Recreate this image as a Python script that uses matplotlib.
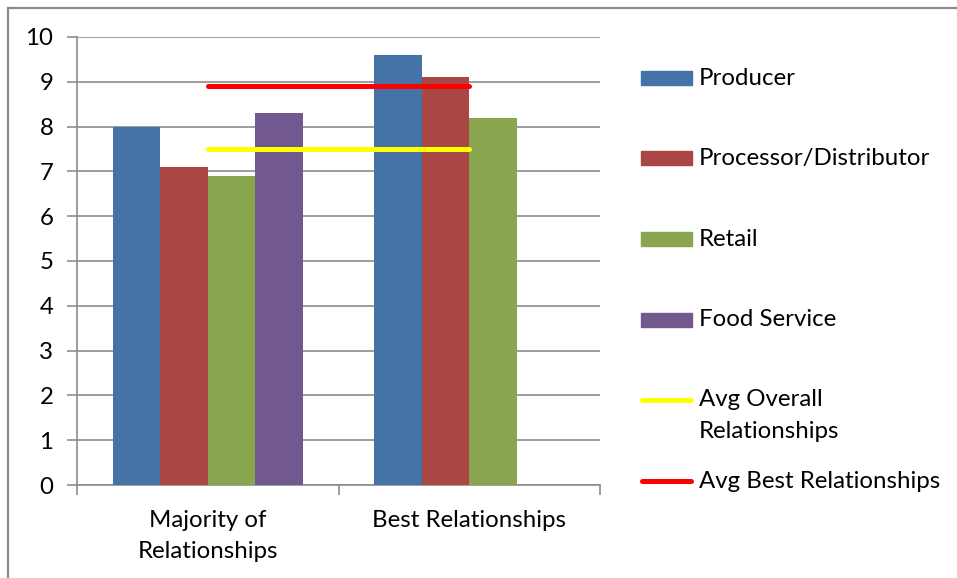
import matplotlib
matplotlib.use("Agg")
import matplotlib.pyplot as plt
from matplotlib.patches import Rectangle
from matplotlib.lines import Line2D
import numpy as np

plt.rcParams['font.family'] = ['Lato', 'DejaVu Sans']

categories = ["Majority of\nRelationships", "Best Relationships"]
series_names = ["Producer", "Processor/Distributor", "Retail", "Food Service"]
producer = [8.0, 9.6]
processor = [7.1, 9.1]
retail = [6.9, 8.2]
food_service = [8.3, np.nan]
avg_overall = [7.5, 7.5]
avg_best = [8.9, 8.9]
yticks = list(range(0, 11))

bar_colors = ["#4572A7", "#AA4643", "#89A54E", "#71588F"]
line_names = ["Avg Overall\nRelationships", "Avg Best Relationships"]
line_colors = ["#FFFF00", "#FF0000"]
FS = 17.3

fig = plt.figure(figsize=(9.57, 5.78), dpi=100)
ax = fig.add_axes([77/957, 1 - 485/578, (600 - 77)/957, (485 - 37)/578])

x = np.arange(len(categories))
n = 4
width = 1.0 / (n + 1.5)
for i, (vals, c) in enumerate(zip([producer, processor, retail, food_service], bar_colors)):
    offs = (i - (n - 1) / 2) * width
    ax.bar(x + offs, vals, width, color=c, zorder=3)

ax.plot(x, avg_overall, color=line_colors[0], lw=3.6, solid_capstyle='round', zorder=4)
ax.plot(x, avg_best, color=line_colors[1], lw=3.6, solid_capstyle='round', zorder=4)

ax.set_xlim(-0.5, 1.5)
ax.set_ylim(0, 10)
ax.set_yticks(yticks)
ax.set_yticklabels([str(t) for t in yticks], fontsize=FS)
ax.yaxis.grid(True, color="#8C8C8C", lw=1.2, zorder=0)
ax.set_axisbelow(True)
for s in ["top", "right"]:
    ax.spines[s].set_visible(False)
for s in ["left", "bottom"]:
    ax.spines[s].set_color("#8C8C8C")
    ax.spines[s].set_linewidth(1.2)
ax.tick_params(axis='y', length=7, color="#8C8C8C", width=1.2, pad=10)

# category labels centred, tick marks on category boundaries
ax.set_xticks([-0.5, 0.5, 1.5])
ax.set_xticklabels([])
ax.tick_params(axis='x', length=7, color="#8C8C8C", width=1.2)
for xi, lab in zip(x, categories):
    ax.text(xi, -0.56, lab, ha='center', va='top', fontsize=FS,
            transform=ax.transData, linespacing=1.6)

# legend drawn in figure pixel coordinates
W, H = 957, 578
def fx(px):
    return px / W
def fy(py):
    return 1 - py / H

legend_rows = [78, 158, 239, 320]
for name, c, yy in zip(series_names, bar_colors, legend_rows):
    fig.add_artist(Rectangle((fx(641), fy(yy + 7)), 51 / W, 14 / H,
                             transform=fig.transFigure, color=c))
    fig.text(fx(699), fy(yy), name, fontsize=FS, va='center', ha='left')

line_rows = [400, 481]
for name, c, yy in zip(line_names, line_colors, line_rows):
    fig.add_artist(Line2D([fx(642), fx(691)], [fy(yy), fy(yy)],
                          transform=fig.transFigure, color=c, lw=3.6,
                          solid_capstyle='round'))
    lines = name.split('\n')
    for k, part in enumerate(lines):
        fig.text(fx(699), fy(yy + 32 * k), part, fontsize=FS, va='center', ha='left')

# outer frame
fig.add_artist(Line2D([fx(8), fx(8)], [fy(8), 0], transform=fig.transFigure,
                      color="#8C8C8C", lw=1.6))
fig.add_artist(Line2D([fx(8), 1], [fy(8), fy(8)], transform=fig.transFigure,
                      color="#8C8C8C", lw=1.6))

fig.savefig("out.png", dpi=100)
